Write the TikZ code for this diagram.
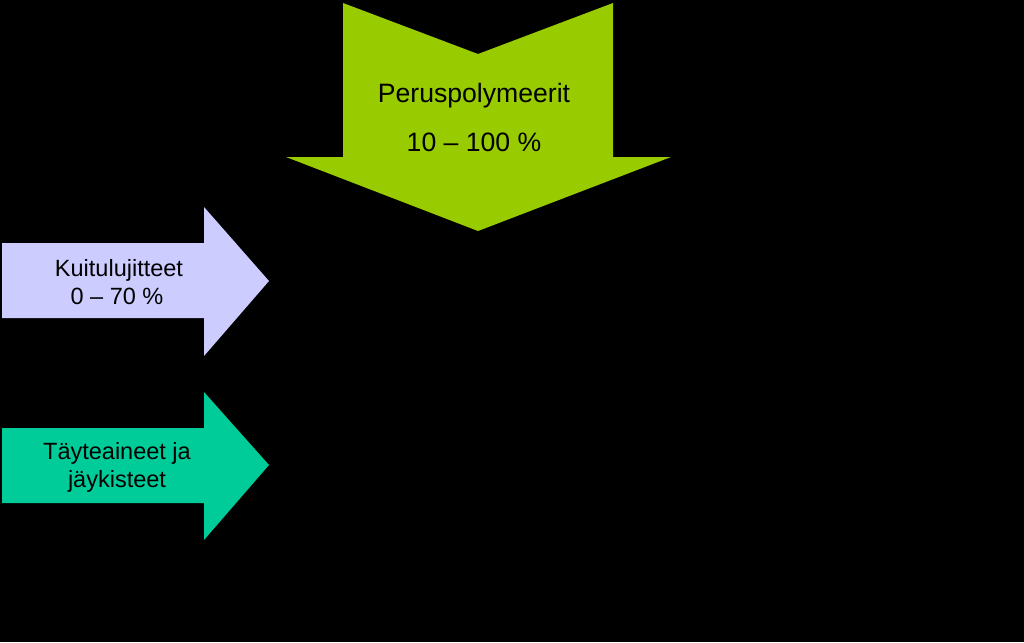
\documentclass[tikz,border=0pt]{standalone}
\usepackage{fontspec}
\setmainfont{Liberation Sans}
\definecolor{limegreen}{HTML}{99CC00}
\definecolor{lavender}{HTML}{CCCCFF}
\definecolor{tealgreen}{HTML}{00CC99}
\begin{document}
\begin{tikzpicture}[x=1pt,y=-1pt,
  lbl/.style={anchor=base,inner sep=0pt,text=black},
  big/.style={lbl,font=\fontsize{26.6}{30}\selectfont},
  mid/.style={lbl,font=\fontsize{23.5}{26}\selectfont}]
\fill[black] (0,0) rectangle (1024,642);
\useasboundingbox (0,0) rectangle (1024,642);
% green down arrow
\fill[limegreen] (343,3) -- (478,54) -- (613,3) -- (613,157) -- (671,157)
  -- (478,231) -- (286,157) -- (343,157) -- cycle;
% lavender right arrow
\fill[lavender] (2,243) -- (204,243) -- (204,207) -- (269,281) -- (204,356)
  -- (204,318) -- (2,318) -- cycle;
% teal right arrow
\fill[tealgreen] (2,428) -- (204,428) -- (204,392) -- (269,465) -- (204,540)
  -- (204,503) -- (2,503) -- cycle;
\node[big] (p1) at (474,102) {Peruspolymeerit};
\node[big] (p2) at (474,151) {10 – 100 \%};
\node[mid] (k1) at (119,276) {Kuitulujitteet};
\node[mid] (k2) at (117,304) {0 – 70 \%};
\node[mid] (t1) at (117,459) {Täyteaineet ja};
\node[mid] (t2) at (117,487) {jäykisteet};
\end{tikzpicture}
\end{document}
